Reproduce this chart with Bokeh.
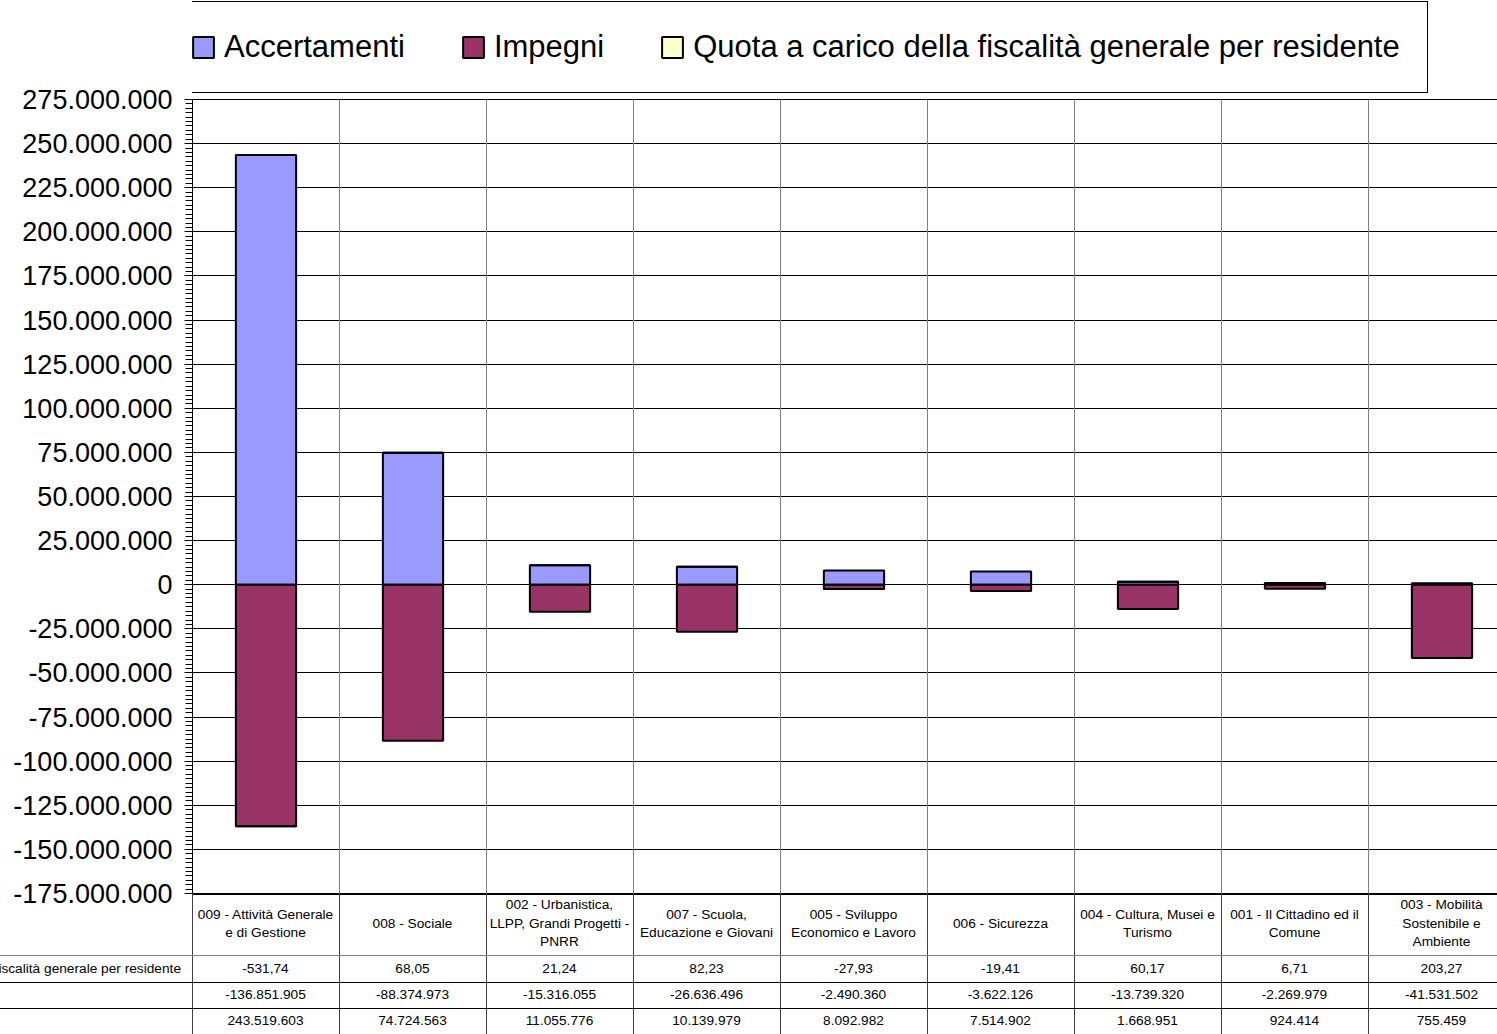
from bokeh.plotting import figure
from bokeh.models import (Range1d, FixedTicker, CustomJSTickFormatter, Legend,
                          LegendItem, ColumnDataSource, Div)
from bokeh.layouts import column
from bokeh.embed import file_html
from bokeh.resources import INLINE

# ---------------- data ----------------
categories = [
    "009 - Attività Generale\ne di Gestione",
    "008 - Sociale",
    "002 - Urbanistica,\nLLPP, Grandi Progetti -\nPNRR",
    "007 - Scuola,\nEducazione e Giovani",
    "005 - Sviluppo\nEconomico e Lavoro",
    "006 - Sicurezza",
    "004 - Cultura, Musei e\nTurismo",
    "001 - Il Cittadino ed il\nComune",
    "003 - Mobilità\nSostenibile e\nAmbiente",
]
accertamenti = [243519603, 74724563, 11055776, 10139979, 8092982, 7514902, 1668951, 924414, 755459]
impegni = [-136851905, -88374973, -15316055, -26636496, -2490360, -3622126, -13739320, -2269979, -41531502]
quota = [-531.74, 68.05, 21.24, 82.23, -27.93, -19.41, 60.17, 6.71, 203.27]
series_names = ["Accertamenti", "Impegni", "Quota a carico della fiscalità generale per residente"]
y_ticks = [-175000000, -150000000, -125000000, -100000000, -75000000, -50000000, -25000000, 0,
           25000000, 50000000, 75000000, 100000000, 125000000, 150000000, 175000000,
           200000000, 225000000, 250000000, 275000000]

FONT = "Liberation Sans"
COL = 147.0
W = 1497
FRAME_LEFT = 192
X_END = (W - FRAME_LEFT) / COL
PLOT_TOP = 99        # pixel row of the 275.000.000 line
PLOT_BOTTOM = 893    # pixel row of the -175.000.000 line
OVER = 17            # room under the frame for the last tick label
TABLE_H = 141

n = len(categories)
xs = [i + 0.5 for i in range(n)]
minor = [t + k * 2500000 for t in y_ticks[:-1] for k in range(1, 10)]
per_px = (y_ticks[-1] - y_ticks[0]) / (PLOT_BOTTOM - PLOT_TOP)
y_top = y_ticks[-1] + PLOT_TOP * per_px   # frame reaches the top of the page (room for legend)

q_bottom = [a if q >= 0 else i + q for a, i, q in zip(accertamenti, impegni, quota)]
q_top = [a + q if q >= 0 else i for a, i, q in zip(accertamenti, impegni, quota)]
src = ColumnDataSource(dict(x=xs, acc=accertamenti, imp=impegni, zero=[0] * n,
                            qb=q_bottom, qt=q_top))

# ---------------- main chart ----------------
pA = figure(width=W, height=PLOT_BOTTOM + OVER, x_range=Range1d(0, X_END),
            y_range=Range1d(y_ticks[0], y_top),
            output_backend="svg", toolbar_location=None,
            min_border_left=FRAME_LEFT, min_border_right=0,
            min_border_top=0, min_border_bottom=OVER)
pA.outline_line_color = None
pA.background_fill_color = "white"
pA.border_fill_color = None
pA.xaxis.visible = False
pA.xgrid.visible = False

ax = pA.yaxis[0]
ax.ticker = FixedTicker(ticks=y_ticks, minor_ticks=minor)
ax.bounds = (y_ticks[0], y_ticks[-1])
ax.formatter = CustomJSTickFormatter(code="""
const s = Math.abs(Math.round(tick)).toString().replace(/\\B(?=(\\d{3})+(?!\\d))/g, ".");
return (tick < 0 ? "-" : "") + s;
""")
ax.major_label_text_font = FONT
ax.major_label_text_font_size = "27px"
ax.major_label_text_color = "black"
ax.axis_line_color = "black"
ax.axis_line_width = 1
ax.major_tick_line_color = "black"
ax.major_tick_in = 8
ax.major_tick_out = 8
ax.minor_tick_line_color = "black"
ax.minor_tick_in = 0
ax.minor_tick_out = 7
ax.major_label_standoff = 12

pA.ygrid.grid_line_color = "black"
pA.ygrid.grid_line_width = 1

# vertical separators between the categories
sep = list(range(1, n))
pA.segment(x0=sep, y0=[y_ticks[0]] * len(sep), x1=sep, y1=[y_ticks[-1]] * len(sep),
           line_color="#808080", line_width=1)

BW = 0.41
rA = pA.vbar(x="x", width=BW, bottom="zero", top="acc", source=src,
             fill_color="#9999FF", line_color="black", line_width=2)
rI = pA.vbar(x="x", width=BW, bottom="imp", top="zero", source=src,
             fill_color="#993366", line_color="black", line_width=2)
rQ = pA.vbar(x="x", width=BW, bottom="qb", top="qt", source=src,
             fill_color="#FFFFCC", line_color="black", line_width=2)

legend = Legend(items=[LegendItem(label=series_names[0], renderers=[rA]),
                       LegendItem(label=series_names[1], renderers=[rI]),
                       LegendItem(label=series_names[2], renderers=[rQ])],
                orientation="horizontal", location=(-30, PLOT_BOTTOM - 93),
                label_text_font=FONT, label_text_font_size="31px", label_text_color="black",
                glyph_width=26, glyph_height=26, label_standoff=8, spacing=55,
                padding=27, margin=0, border_line_color="black", border_line_width=1,
                border_line_alpha=1.0,
                background_fill_color="white", background_fill_alpha=1.0)
pA.add_layout(legend)

# ---------------- data table (HTML, aligned on the same 147px columns) ----------------
def it_int(v):
    return ("-" if v < 0 else "") + f"{abs(v):,}".replace(",", ".")

def it_dec(v):
    s = f"{abs(v):,.2f}".replace(",", "X").replace(".", ",").replace("X", ".")
    return ("-" if v < 0 else "") + s

row_bounds = [0, 62, 89, 115, TABLE_H]
rows = [[it_dec(v) for v in quota], [it_int(v) for v in impegni], [it_int(v) for v in accertamenti]]
font_css = f"font-family:'{FONT}';font-size:13.7px;color:#000;"

parts = []
def box(left, top, width, height, color):
    parts.append(f'<div style="position:absolute;left:{left}px;top:{top}px;width:{width}px;'
                 f'height:{height}px;background:{color};"></div>')

def cell(left, top, width, height, text, lh="18.5px"):
    parts.append(f'<div style="position:absolute;left:{left}px;top:{top}px;width:{width}px;'
                 f'height:{height}px;display:flex;align-items:center;justify-content:center;'
                 f'text-align:center;line-height:{lh};white-space:nowrap;{font_css}">{text}</div>')

for i, c in enumerate(categories):
    cell(FRAME_LEFT + i * COL, row_bounds[0], COL, row_bounds[1] - row_bounds[0],
         c.replace("\n", "<br>"))
for r, vals in enumerate(rows):
    for i, v in enumerate(vals):
        cell(FRAME_LEFT + i * COL, row_bounds[r + 1], COL,
             row_bounds[r + 2] - row_bounds[r + 1], v, lh="16px")
# row labels: left aligned together, right edge of the longest at x=181 (cropped on the left)
label_rows = "".join(
    f'<div style="height:{row_bounds[r + 2] - row_bounds[r + 1]}px;display:flex;align-items:center;'
    f'white-space:nowrap;">{name}</div>'
    for r, name in enumerate([series_names[2], series_names[1], series_names[0]]))
parts.append(f'<div style="position:absolute;right:{W - 181}px;top:{row_bounds[1]}px;{font_css}">'
             f'{label_rows}</div>')
box(FRAME_LEFT, 0, W - FRAME_LEFT, 2, "#000")
for k in range(n):
    box(int(FRAME_LEFT + k * COL), 0, 1, TABLE_H, "#404040")
box(0, row_bounds[1], W, 1, "#808080")
box(0, row_bounds[2], W, 1, "#000")
box(0, row_bounds[3], W, 1, "#000")

html = (f'<div style="position:relative;width:{W}px;height:{TABLE_H}px;overflow:hidden;">'
        + "".join(parts) + '</div>')
table = Div(text=html, width=W, height=TABLE_H, margin=(-OVER, 0, 0, 0),
            styles={"overflow": "hidden", "padding": "0"})

layout = column(pA, table, spacing=0)
open("out.html", "w").write(file_html(layout, INLINE))
